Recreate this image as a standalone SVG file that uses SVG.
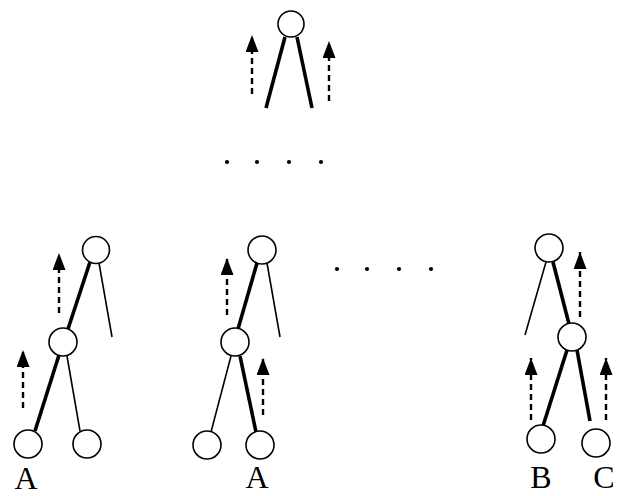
<svg xmlns="http://www.w3.org/2000/svg" width="619" height="496" viewBox="0 0 619 496">
  <style>
    .node { fill: #fff; stroke: #000; stroke-width: 1.6; }
    .thick { stroke: #000; stroke-width: 3.6; stroke-linecap: butt; fill: none; }
    .thin { stroke: #000; stroke-width: 1.6; fill: none; }
    .up { stroke: #000; stroke-width: 2.4; stroke-dasharray: 6 4; fill: none; marker-end: url(#head); }
    .dot { fill: #000; }
    .lbl { font-family: "Liberation Serif", "Times New Roman", serif; font-size: 32px; fill: #000; text-anchor: middle; }
  </style>
  <defs>
    <!-- solid triangular head, tip placed at the line end -->
    <marker id="head" viewBox="0 0 17 13" refX="17" refY="6.5" markerWidth="17" markerHeight="13" markerUnits="userSpaceOnUse" orient="auto">
      <path d="M0,0 L17,6.5 L0,13 Z" fill="#000"/>
    </marker>
  </defs>
  <rect width="619" height="496" fill="#fff"/>

  <g id="connectors">
    <!-- top node -->
    <line class="thick" x1="285" y1="37" x2="266" y2="108"/>
    <line class="thick" x1="297" y1="37" x2="312" y2="108"/>
    <!-- left tree -->
    <line class="thick" x1="90" y1="262" x2="68" y2="329"/>
    <line class="thin" x1="99" y1="263" x2="112" y2="337"/>
    <line class="thick" x1="59" y1="355" x2="35" y2="431"/>
    <line class="thin" x1="67" y1="356" x2="80" y2="431"/>
    <!-- middle tree -->
    <line class="thick" x1="257" y1="263" x2="238" y2="329"/>
    <line class="thin" x1="267" y1="263" x2="280" y2="337"/>
    <line class="thin" x1="231" y1="356" x2="211" y2="432"/>
    <line class="thick" x1="240" y1="356" x2="256" y2="432"/>
    <!-- right tree -->
    <line class="thin" x1="546" y1="262" x2="525" y2="335"/>
    <line class="thick" x1="553" y1="262" x2="569" y2="324"/>
    <line class="thick" x1="567" y1="350" x2="543" y2="426"/>
    <line class="thick" x1="577" y1="350" x2="590" y2="421"/>
    <!-- upward dashed arrows -->
    <line class="up" x1="252" y1="94" x2="252" y2="35"/>
    <line class="up" x1="329" y1="101" x2="329" y2="41"/>
    <line class="up" x1="59" y1="313" x2="59" y2="253"/>
    <line class="up" x1="23" y1="408" x2="23" y2="350"/>
    <line class="up" x1="227" y1="315" x2="227" y2="258"/>
    <line class="up" x1="263" y1="415" x2="263" y2="358"/>
    <line class="up" x1="580" y1="317" x2="580" y2="252"/>
    <line class="up" x1="531" y1="420" x2="531" y2="358"/>
    <line class="up" x1="606" y1="420" x2="606" y2="358"/>
  </g>

  <g id="ellipsis">
    <circle class="dot" cx="227" cy="162" r="2.1"/>
    <circle class="dot" cx="257" cy="162" r="2.1"/>
    <circle class="dot" cx="289" cy="162" r="2.1"/>
    <circle class="dot" cx="321" cy="162" r="2.1"/>
    <circle class="dot" cx="337" cy="269" r="2.1"/>
    <circle class="dot" cx="367" cy="269" r="2.1"/>
    <circle class="dot" cx="399" cy="269" r="2.1"/>
    <circle class="dot" cx="431" cy="269" r="2.1"/>
  </g>

  <g id="root"><circle class="node" cx="291" cy="24" r="13"/></g>

  <g id="left-top"><circle class="node" cx="96" cy="250" r="13.5"/></g>
  <g id="left-mid"><circle class="node" cx="63" cy="342" r="14"/></g>
  <g id="left-leaf-a"><circle class="node" cx="28" cy="444" r="14"/><text class="lbl" x="26" y="489">A</text></g>
  <g id="left-leaf-2"><circle class="node" cx="87" cy="444" r="14"/></g>

  <g id="mid-top"><circle class="node" cx="262" cy="250" r="14"/></g>
  <g id="mid-mid"><circle class="node" cx="235" cy="342" r="14"/></g>
  <g id="mid-leaf-1"><circle class="node" cx="207" cy="445" r="14"/></g>
  <g id="mid-leaf-a"><circle class="node" cx="260" cy="445" r="14"/><text class="lbl" x="257" y="488">A</text></g>

  <g id="right-top"><circle class="node" cx="549" cy="248" r="14"/></g>
  <g id="right-mid"><circle class="node" cx="572" cy="337" r="14"/></g>
  <g id="right-leaf-b"><circle class="node" cx="541" cy="439" r="14"/><text class="lbl" x="541" y="488">B</text></g>
  <g id="right-leaf-c"><circle class="node" cx="596" cy="443" r="14"/><text class="lbl" x="604" y="488">C</text></g>
</svg>
